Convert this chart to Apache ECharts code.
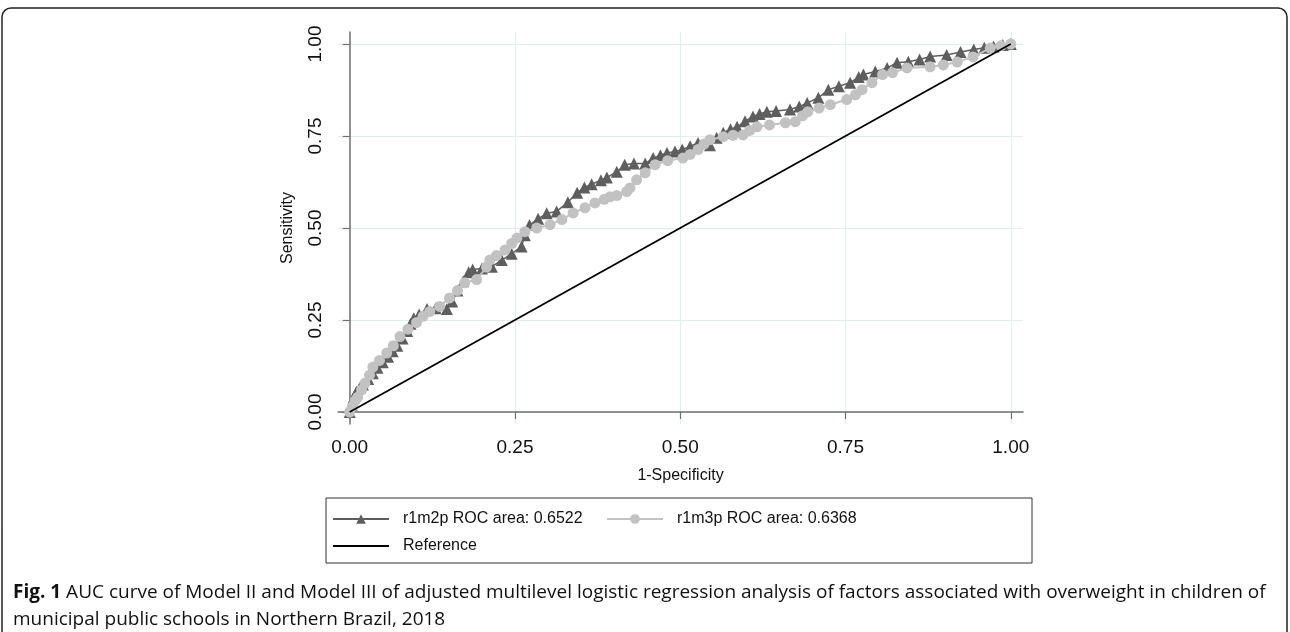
<!DOCTYPE html>
<html>
<head>
<meta charset="utf-8">
<title>ROC</title>
<script src="https://cdn.jsdelivr.net/npm/echarts@6/dist/echarts.min.js"></script>
<style>
  html, body { margin: 0; padding: 0; background: #fff; }
  #main { width: 1290px; height: 632px; }
</style>
</head>
<body>
<div id="main"></div>
<script>
// tick values on both axes
var ticks = [0, 0.25, 0.5, 0.75, 1];

// r1m2p  (1-specificity, sensitivity)
var r1m2p = [
  [0,0],[0.003,0.02],[0.006,0.04],[0.01,0.055],[0.015,0.065],[0.02,0.075],[0.028,0.09],[0.035,0.105],
  [0.042,0.12],[0.05,0.135],[0.058,0.15],[0.065,0.165],[0.072,0.18],[0.08,0.2],[0.087,0.22],[0.092,0.24],
  [0.097,0.255],[0.105,0.265],[0.117,0.28],[0.13,0.282],[0.147,0.28],[0.155,0.3],[0.163,0.33],[0.172,0.355],
  [0.18,0.38],[0.186,0.387],[0.2,0.39],[0.215,0.395],[0.23,0.413],[0.245,0.43],[0.26,0.45],[0.265,0.48],
  [0.272,0.508],[0.285,0.525],[0.298,0.54],[0.313,0.545],[0.33,0.57],[0.344,0.596],[0.355,0.61],[0.366,0.619],
  [0.38,0.63],[0.389,0.637],[0.404,0.653],[0.416,0.672],[0.43,0.675],[0.447,0.675],[0.459,0.69],[0.47,0.698],
  [0.48,0.704],[0.492,0.708],[0.503,0.713],[0.515,0.722],[0.527,0.731],[0.545,0.725],[0.555,0.745],[0.565,0.759],
  [0.576,0.768],[0.586,0.775],[0.598,0.79],[0.61,0.803],[0.62,0.81],[0.631,0.816],[0.645,0.818],[0.666,0.822],
  [0.68,0.83],[0.692,0.84],[0.709,0.854],[0.724,0.876],[0.74,0.885],[0.757,0.895],[0.77,0.91],[0.777,0.917],
  [0.795,0.925],[0.813,0.935],[0.828,0.949],[0.845,0.952],[0.862,0.958],[0.878,0.966],[0.903,0.97],[0.924,0.978],
  [0.944,0.985],[0.96,0.99],[0.974,0.993],[0.988,0.997],[1,1]
];

// r1m3p
var r1m3p = [
  [0,0],[0.004,0.015],[0.008,0.03],[0.012,0.04],[0.018,0.06],[0.023,0.078],[0.03,0.1],[0.035,0.122],
  [0.045,0.14],[0.056,0.16],[0.066,0.18],[0.076,0.205],[0.088,0.225],[0.101,0.243],[0.111,0.26],[0.121,0.273],
  [0.136,0.287],[0.151,0.31],[0.163,0.33],[0.174,0.351],[0.192,0.36],[0.207,0.394],[0.212,0.413],[0.222,0.425],
  [0.235,0.44],[0.245,0.458],[0.253,0.473],[0.265,0.49],[0.283,0.5],[0.303,0.509],[0.321,0.523],[0.338,0.541],
  [0.356,0.555],[0.371,0.568],[0.385,0.578],[0.394,0.585],[0.404,0.588],[0.419,0.599],[0.424,0.609],[0.434,0.631],
  [0.447,0.65],[0.462,0.672],[0.481,0.683],[0.504,0.69],[0.515,0.7],[0.527,0.713],[0.536,0.728],[0.545,0.74],
  [0.565,0.748],[0.58,0.752],[0.595,0.753],[0.605,0.765],[0.616,0.775],[0.635,0.78],[0.659,0.786],[0.674,0.789],
  [0.685,0.805],[0.693,0.816],[0.71,0.826],[0.727,0.835],[0.752,0.849],[0.765,0.862],[0.775,0.876],[0.79,0.895],
  [0.806,0.917],[0.821,0.922],[0.843,0.935],[0.878,0.938],[0.898,0.943],[0.919,0.951],[0.943,0.965],[0.969,0.989],
  [0.985,0.995],[1,1]
];

var reference = [[0,0],[1,1]];

var legendNames = ['r1m2p ROC area: 0.6522', 'r1m3p ROC area: 0.6368', 'Reference'];

var captionBold = 'Fig. 1';
var captionText = ' AUC curve of Model II and Model III of adjusted multilevel logistic regression analysis of factors associated with overweight in children of';
var captionText2 = 'municipal public schools in Northern Brazil, 2018';

var font = 'Liberation Sans, Arial, sans-serif';
var capFont = 'Open Sans, Noto Sans, sans-serif';
var axisGray = '#6f6f6f';
var gridBlue = '#e2edf0';

var chart = echarts.init(document.getElementById('main'));

var fmt = function(v){ return v.toFixed(2); };

chart.setOption({
  animation: false,
  textStyle: { fontFamily: font },
  graphic: [{
    type: 'rect',
    shape: { x: 2, y: 8, width: 1285, height: 660, r: 9 },
    style: { fill: 'none', stroke: '#222', lineWidth: 1.5 },
    silent: true
  }],
  title: {
    left: 8,
    top: 574,
    text: '{b|' + captionBold + '}{n|' + captionText + '}\n{n|' + captionText2 + '}',
    textStyle: {
      rich: {
        b: { fontFamily: capFont, fontWeight: 'bold', fontSize: 19, color: '#111', lineHeight: 27 },
        n: { fontFamily: capFont, fontWeight: 'normal', fontSize: 19, color: '#111', lineHeight: 27 }
      }
    }
  },
  grid: { left: 338, right: 267, top: 32, bottom: 208 },
  xAxis: {
    type: 'value',
    min: -0.0177,
    max: 1.0185,
    name: '1-Specificity',
    nameLocation: 'middle',
    nameGap: 44,
    nameTextStyle: { fontSize: 16, color: '#111', fontFamily: font },
    axisLine: { lineStyle: { color: axisGray, width: 1.5 } },
    axisTick: { customValues: ticks, length: 7, lineStyle: { color: axisGray, width: 1.2 } },
    axisLabel: { customValues: ticks, formatter: fmt, fontSize: 19, color: '#111', margin: 14 },
    splitLine: { show: true, lineStyle: { color: gridBlue, width: 1 } }
  },
  yAxis: {
    type: 'value',
    min: -0.0326,
    max: 1.0326,
    name: 'Sensitivity',
    nameLocation: 'middle',
    nameGap: 42,
    nameRotate: 90,
    nameTextStyle: { fontSize: 16, color: '#111', fontFamily: font },
    axisLine: { show: true, lineStyle: { color: axisGray, width: 1.5 } },
    axisTick: { show: true, customValues: ticks, length: 7, lineStyle: { color: axisGray, width: 1.2 } },
    axisLabel: { customValues: ticks, formatter: fmt, rotate: 90, fontSize: 19, color: '#111', margin: 13 },
    splitLine: { show: true, lineStyle: { color: gridBlue, width: 1 } }
  },
  legend: {
    left: 326,
    top: 498,
    width: 700,
    data: [
      { name: legendNames[0] },
      { name: legendNames[1] },
      { name: legendNames[2], itemStyle: { opacity: 0 } }
    ],
    itemWidth: 56,
    itemHeight: 12,
    itemGap: 9,
    padding: [12, 161, 8, 6],
    borderColor: '#333',
    borderWidth: 1,
    borderRadius: 0,
    textStyle: { fontSize: 16, color: '#111', lineHeight: 18, width: 194, padding: [0, 0, 0, 9], fontFamily: font }
  },
  series: [{
    name: legendNames[0],
    type: 'line',
    data: r1m2p,
    symbol: 'triangle',
    symbolSize: 12,
    showAllSymbol: true,
    itemStyle: { color: '#5e5e5e' },
    lineStyle: { color: '#5e5e5e', width: 1.5 },
    z: 2
  }, {
    name: legendNames[1],
    type: 'line',
    data: r1m3p,
    symbol: 'circle',
    symbolSize: 11,
    showAllSymbol: true,
    itemStyle: { color: '#c2c2c2' },
    lineStyle: { color: '#c2c2c2', width: 2 },
    z: 3
  }, {
    name: legendNames[2],
    type: 'line',
    data: reference,
    symbol: 'none',
    itemStyle: { color: '#000' },
    lineStyle: { color: '#000', width: 1.8 },
    z: 4
  }]
});
</script>
</body>
</html>
